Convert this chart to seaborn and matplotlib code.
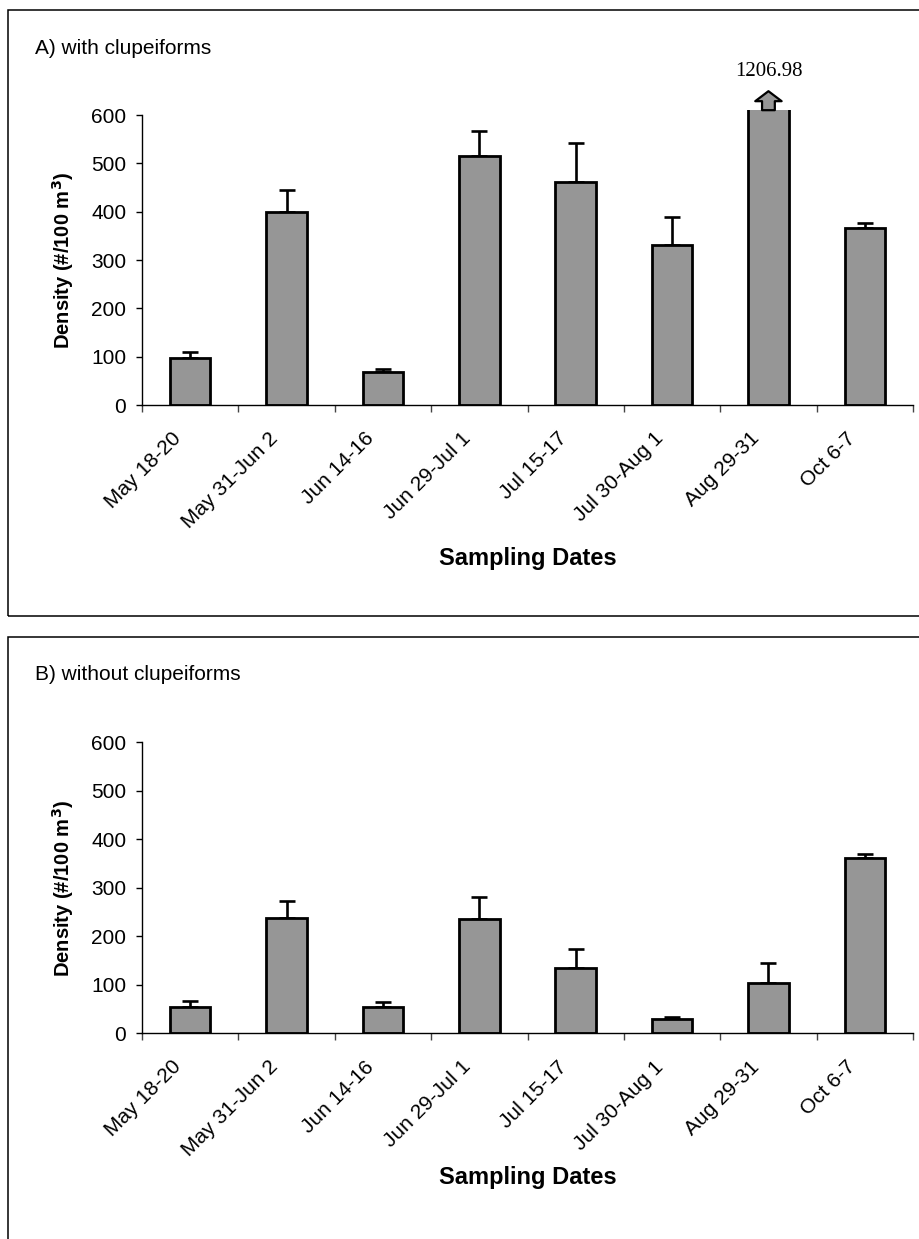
import numpy as np
import pandas as pd
import matplotlib
matplotlib.use("Agg")
import matplotlib.pyplot as plt
import matplotlib.transforms as mtransforms
from matplotlib.patches import Rectangle
from matplotlib.ticker import FixedLocator, MultipleLocator
import seaborn as sns

# Sampling periods
dates = ["May 18-20", "May 31-Jun 2", "Jun 14-16", "Jun 29-Jul 1",
         "Jul 15-17", "Jul 30-Aug 1", "Aug 29-31", "Oct 6-7"]

# A) density with clupeiforms (mean and +1 SE)
with_clup = [98, 400, 68, 516, 461, 332, 1206.98, 366]
with_clup_se = [11, 44, 6, 50, 81, 56, np.nan, 11]

# B) density without clupeiforms (mean and +1 SE)
without_clup = [55, 238, 54, 235, 135, 30, 104, 361]
without_clup_se = [12, 35, 10, 46, 39, 4, 41, 9]

y_ticks = [0, 100, 200, 300, 400, 500, 600]
Y_MAX = 610

sns.set_style("ticks")
plt.rcParams["font.family"] = ["Liberation Sans", "DejaVu Sans"]
plt.rcParams.update({
    "text.color": "black",
    "axes.labelcolor": "black",
    "xtick.color": "black",
    "ytick.color": "black",
})

W, H = 919, 1239
fig = plt.figure(figsize=(W / 100, H / 100), dpi=100)


def px_box(left, top, right, bottom):
    """Convert a pixel box (origin top-left) to figure fractions."""
    return [left / W, 1 - bottom / H, (right - left) / W, (bottom - top) / H]


def draw_panel(ax, values, errors, title, title_y, xlabel_y, break_label=None):
    df = pd.DataFrame({"date": dates, "density": values})
    sns.barplot(data=df, x="date", y="density", ax=ax, color="#969696",
                saturation=1, edgecolor="black", linewidth=2.0, width=0.42,
                errorbar=None, zorder=1)
    pos = np.arange(len(dates))
    err = np.asarray(errors, dtype=float)
    ax.errorbar(pos, values, yerr=[np.zeros_like(err), err], fmt="none",
                ecolor="black", elinewidth=1.9, capsize=5.8, capthick=1.9,
                zorder=0.5)

    ax.set_xlim(-0.5, len(dates) - 0.5)
    ax.set_ylim(0, Y_MAX)
    ax.yaxis.set_major_locator(FixedLocator(y_ticks))
    sns.despine(ax=ax)
    ax.spines["left"].set_bounds(0, 600)
    for s in ("left", "bottom"):
        ax.spines[s].set_linewidth(1.0)
        ax.spines[s].set_color("black")

    ax.tick_params(axis="y", which="major", direction="out", length=4.3,
                   width=1.0, pad=7, labelsize=15, colors="black")
    ax.xaxis.set_minor_locator(MultipleLocator(1, offset=0.5))
    ax.tick_params(axis="x", which="minor", direction="out", length=5,
                   width=1.0, color="#444444")
    ax.tick_params(axis="x", which="major", length=0, pad=22, labelsize=15,
                   labelcolor="black")
    ax.set_xticks(pos)
    ax.set_xticklabels(dates, rotation=45, ha="right", va="center",
                       rotation_mode="anchor")
    shift = mtransforms.ScaledTranslation(-0.12, 0, fig.dpi_scale_trans)
    for lab in ax.get_xticklabels():
        lab.set_transform(lab.get_transform() + shift)

    ax.set_ylabel(r"Density (#/100 m$^\mathbf{3}$)", fontsize=14.5,
                  fontweight="bold", color="black")
    ax.yaxis.set_label_coords(-0.0856, 0.49)
    ax.set_xlabel("Sampling Dates", fontsize=17, fontweight="bold",
                  color="black")
    ax.xaxis.set_label_coords(0.5, xlabel_y)

    fig.text(35 / W, 1 - title_y / H, title, fontsize=15, ha="left",
             va="center", color="black")

    if break_label is not None:
        # value runs off the scale: draw an upward arrow with its value
        i = values.index(break_label)
        tip = mtransforms.offset_copy(ax.transData, fig=fig, x=0, y=19,
                                      units="dots")
        ax.annotate("", xy=(i, Y_MAX), xycoords=tip,
                    xytext=(0, -19), textcoords="offset pixels",
                    arrowprops=dict(arrowstyle="simple,head_length=0.36,"
                                    "head_width=0.95,tail_width=0.46",
                                    fc="#969696", ec="black", lw=1.6,
                                    shrinkA=0, shrinkB=0,
                                    mutation_scale=20),
                    annotation_clip=False)
        ax.annotate(f"{break_label:.2f}", xy=(i, Y_MAX), xycoords="data",
                    xytext=(0, 29), textcoords="offset pixels",
                    ha="center", va="bottom", fontsize=15,
                    family=["Liberation Serif", "DejaVu Serif"],
                    color="black", annotation_clip=False)


# Panel frames
for top, bottom in ((10, 616), (637, 1250)):
    fig.patches.append(Rectangle((8 / W, 1 - bottom / H), 1.0,
                                 (bottom - top) / H,
                                 transform=fig.transFigure, fill=False,
                                 ec="black", lw=1.1))

ax_a = fig.add_axes(px_box(142, 405 - Y_MAX * 0.4833, 913, 405))
ax_b = fig.add_axes(px_box(142, 1033.3 - Y_MAX * 0.485, 913, 1033.3))

draw_panel(ax_a, with_clup, with_clup_se, "A) with clupeiforms", 48, -0.48,
           break_label=1206.98)
draw_panel(ax_b, without_clup, without_clup_se, "B) without clupeiforms",
           675, -0.45)

fig.savefig("out.png", dpi=100)
